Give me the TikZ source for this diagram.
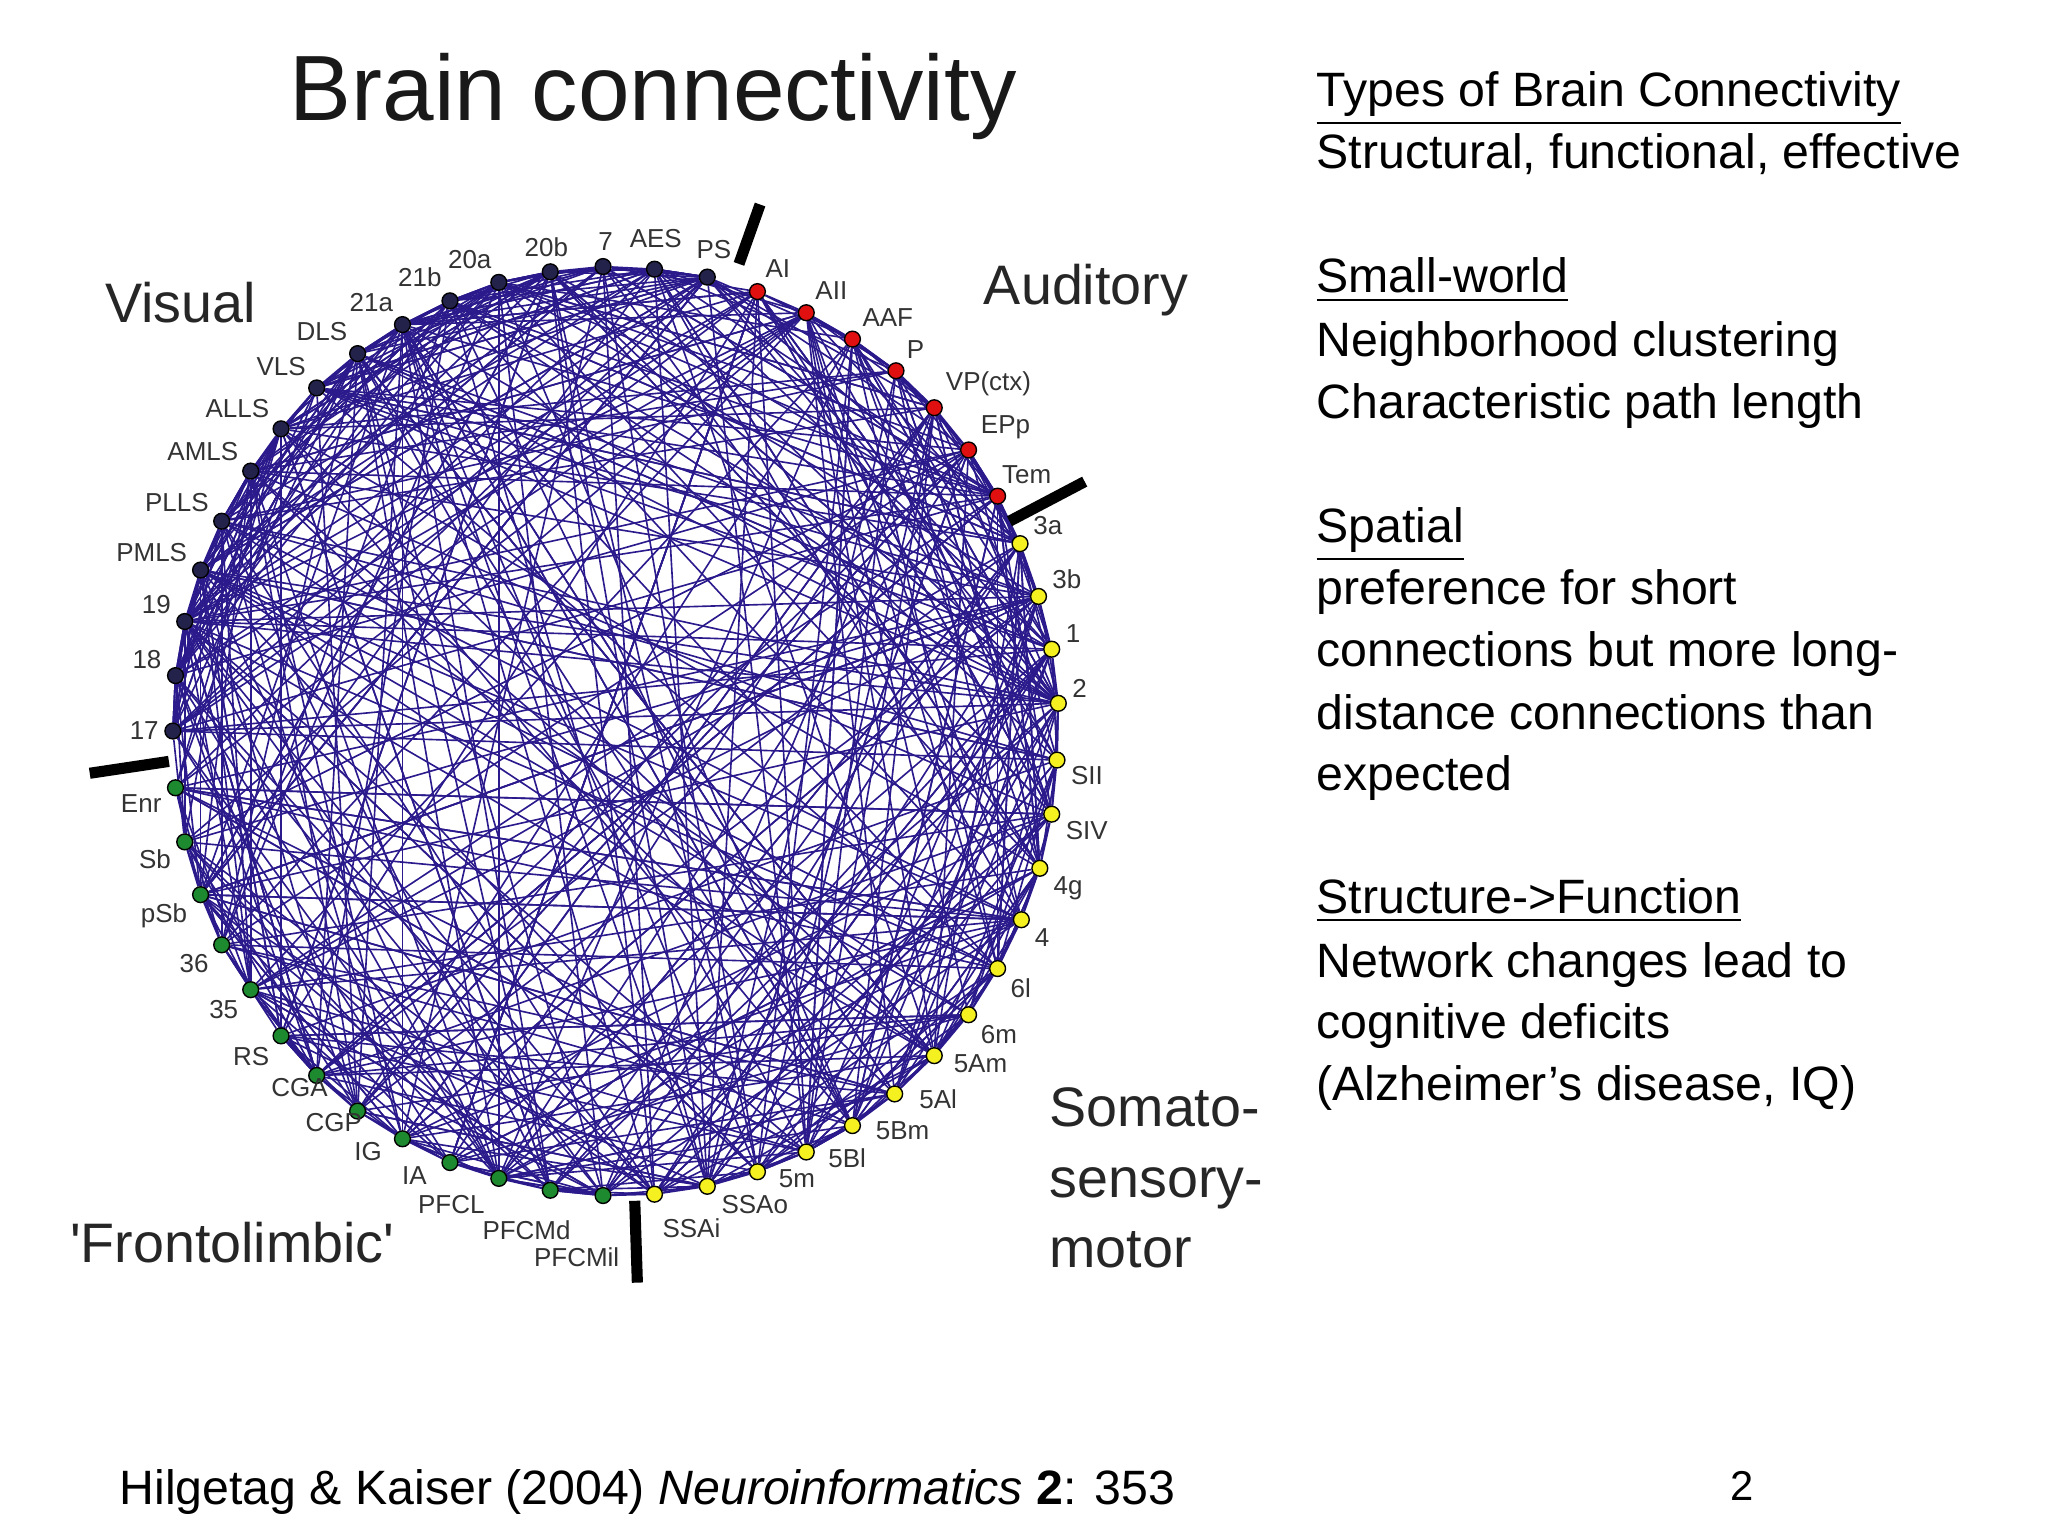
\documentclass[tikz,border=0pt]{standalone}
\usepackage{fontspec}
\setmainfont{Liberation Sans}
\usetikzlibrary{backgrounds}
\definecolor{vis}{HTML}{22224A}
\definecolor{aud}{HTML}{E01010}
\definecolor{som}{HTML}{F5F020}
\definecolor{fro}{HTML}{1E8A30}
\definecolor{wire}{HTML}{2A1A8C}
\tikzset{roi/.style={draw=black,circle,inner sep=0pt,minimum size=0.12cm,line width=0.3pt},
  lab/.style={font=\fontsize{5.6}{6}\selectfont,text=black!80,inner sep=1pt,label distance=0pt},
  edge/.style={draw=wire,line width=0.35pt},
  group/.style={font=\fontsize{12}{14}\selectfont,text=black!85},
  txt/.style={font=\fontsize{10.4}{13}\selectfont,anchor=base west,inner sep=0pt},
  bar/.style={line width=2.4pt,black}}
\begin{document}
\begin{tikzpicture}
\useasboundingbox (0,0) rectangle (15.52,-11.64);
\node[font=\fontsize{20}{24}\selectfont,text=black!90] (title) at (4.95,-0.73) {Brain connectivity};
% regions around the circle (last fields: fixed label position, 0 = automatic)
\foreach \n/\x/\y/\t/\c/\lx/\ly in {1/536/210/PS/vis/541/189,2/496/204/AES/vis/497/181,3/457/202/7/vis/459/183,
  4/417/206/20b/vis/414/187,5/378/214/20a/vis/356/197,6/341/228/21b/vis/0/0,7/305/246/21a/vis/0/0,
  8/271/268/DLS/vis/0/0,9/240/294/VLS/vis/0/0,
  10/213/325/ALLS/vis/0/0,11/190/357/AMLS/vis/0/0,12/168/395/PLLS/vis/0/0,13/152/432/PMLS/vis/0/0,14/140/471/19/vis/0/0,
  15/133/512/18/vis/0/0,16/131/554/17/vis/0/0,
  17/574/221/AI/aud/0/0,18/611/237/AII/aud/0/0,19/646/257/AAF/aud/0/0,20/679/281/P/aud/0/0,21/708/309/VP(ctx)/aud/0/0,
  22/734/341/EPp/aud/0/0,23/756/376/Tem/aud/778/360,
  24/773/412/3a/som/0/0,25/787/452/3b/som/0/0,26/797/492/1/som/0/0,27/802/533/2/som/0/0,28/801/576/SII/som/0/0,
  29/797/617/SIV/som/0/0,30/788/658/4g/som/0/0,31/774/697/4/som/0/0,32/756/734/6l/som/0/0,33/734/769/6m/som/0/0,
  34/708/800/5Am/som/743/806,35/678/829/5Al/som/711/833,36/646/853/5Bm/som/684/857,37/611/873/5Bl/som/642/878,38/574/888/5m/som/604/893,
  39/536/899/SSAo/som/572/913,40/496/905/SSAi/som/524/931,
  41/457/906/PFCMil/fro/437/953,42/417/902/PFCMd/fro/399/932,43/378/893/PFCL/fro/342/913,44/341/881/IA/fro/314/891,
  45/305/863/IG/fro/279/873,46/271/842/CGP/fro/253/851,47/240/815/CGA/fro/227/824,48/213/785/RS/fro/0/0,
  49/190/750/35/fro/0/0,50/168/716/36/fro/0/0,
  51/152/678/pSb/fro/0/0,52/140/638/Sb/fro/0/0,53/133/597/Enr/fro/0/0}{
  \ifnum\lx=0
    \pgfmathsetmacro\ang{atan2(5.55-\y/100,\x/100-4.66)}
    \node[roi,fill=\c,label={[lab]\ang:\t}] (n\n) at (\x/100,-\y/100) {};
  \else
    \node[roi,fill=\c] (n\n) at (\x/100,-\y/100) {};
    \node[lab] (l\n) at (\lx/100,-\ly/100) {\t};
  \fi
}
% connections
\begin{scope}[on background layer]
  \foreach \i in {1,...,51}{
    \pgfmathtruncatemacro\j{\i+1}\pgfmathtruncatemacro\k{\i+2}
    \draw[edge] (n\i) -- (n\j) (n\i) -- (n\k);
  }
  \pgfmathsetseed{11}
  \foreach \m in {1,...,480}{
    \pgfmathtruncatemacro\a{random(1,53)}
    \pgfmathtruncatemacro\b{random(1,53)}
    \draw[edge] (n\a) -- (n\b);
  }
  \foreach \m in {1,...,60}{
    \pgfmathtruncatemacro\a{random(1,16)}
    \pgfmathtruncatemacro\b{random(1,16)}
    \draw[edge] (n\a) -- (n\b);
  }
\end{scope}
% borders between groups
\draw[bar] (5.60,-2.00) -- (5.76,-1.55);
\draw[bar] (7.65,-3.95) -- (8.22,-3.65);
\draw[bar] (0.68,-5.86) -- (1.28,-5.77);
\draw[bar] (4.81,-9.10) -- (4.83,-9.72);
\node[group] (visual) at (1.37,-2.29) {Visual};
\node[group] (auditory) at (8.23,-2.20) {Auditory};
\node[group,anchor=north west,align=left,font=\fontsize{12}{15.2}\selectfont] (somato) at (7.83,-8.12) {Somato-\\sensory-\\motor};
\node[group] (fronto) at (1.76,-9.42) {\textquotesingle Frontolimbic\textquotesingle};
% notes on the right
\foreach \y/\t in {0.81/\underline{Types of Brain Connectivity},1.28/{Structural, functional, effective},
  2.22/\underline{Small-world},2.70/Neighborhood clustering,3.17/Characteristic path length,
  4.11/\underline{Spatial},4.58/preference for short,5.05/connections but more long-,
  5.53/distance connections than,5.99/expected,
  6.92/\underline{Structure->Function},7.41/Network changes lead to,7.87/cognitive deficits,
  8.34/(Alzheimer’s disease{,} IQ)}
  \node[txt] at (9.97,-\y) {\t};
\node[txt] (cite) at (0.90,-11.40) {Hilgetag \& Kaiser (2004) \textit{Neuroinformatics} \textbf{2}: 353};
\node[font=\fontsize{9}{11}\selectfont] (page) at (13.20,-11.26) {2};
\end{tikzpicture}
\end{document}
